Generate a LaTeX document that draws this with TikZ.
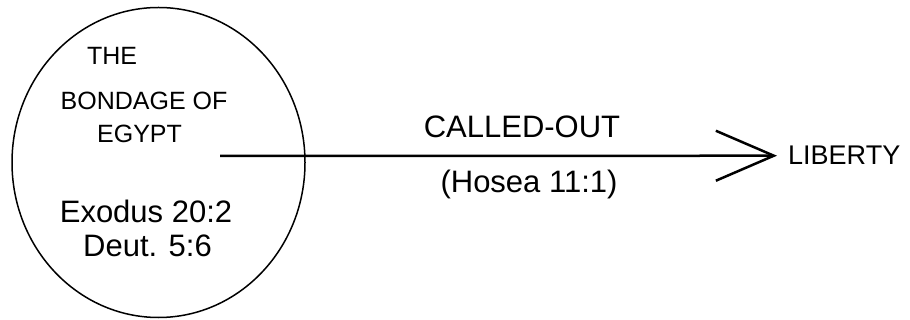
\documentclass[tikz,border=0pt]{standalone}
\usepackage{fontspec}
\setmainfont{Liberation Sans}
\usetikzlibrary{arrows.meta,shapes.geometric}

\begin{document}
\begin{tikzpicture}[x=1pt,y=-1pt,
lbl/.style={anchor=base,inner sep=0pt,font=\fontsize{25}{30}\selectfont},
ref/.style={anchor=base,inner sep=0pt,font=\fontsize{31}{36}\selectfont},
arr/.style={-{Straight Barb[length=58pt,width=50pt,line width=2.5pt]},line width=2.5pt}]
\useasboundingbox (0,0) rectangle (910,320);
\node[draw,ellipse,line width=1.5pt,inner sep=0pt,minimum width=293pt,minimum height=310pt] (egypt) at (158.5,162.5) {};
\node[lbl] (the) at (112,65) {THE};
\node[lbl] (bondage) at (144,110) {BONDAGE OF};
\node[lbl] (egyptname) at (139.5,143) {EGYPT};
\node[ref] (exodus) at (146,223) {Exodus 20:2};
\node[ref] (deut) at (147.5,257) {Deut. 5:6};
\node[ref] (called) at (522,138) {CALLED-OUT};
\node[ref] (hosea) at (529,193) {(Hosea 11:1)};
\node[anchor=base west,inner xsep=11pt,inner ysep=0pt,font=\fontsize{27}{32}\selectfont] (liberty) at (777,165) {LIBERTY};
\coordinate (start) at (220,156);
\draw[arr] (start) -- (liberty.west);
\end{tikzpicture}
\end{document}
